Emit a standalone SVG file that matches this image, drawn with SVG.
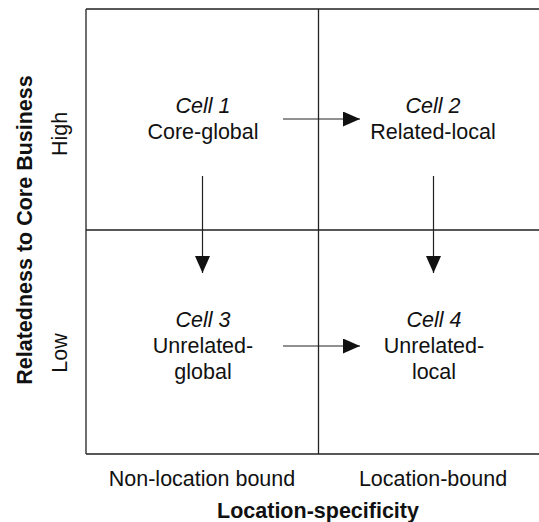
<svg xmlns="http://www.w3.org/2000/svg" width="539" height="522" viewBox="0 0 539 522">
<defs>
<style>
.t{font-family:"Liberation Sans",Arial,sans-serif;font-size:21.5px;fill:#111;text-anchor:middle}
.i{font-style:italic}
.b{font-weight:bold}
.grid{stroke:#222;stroke-width:1.3;fill:none}
.arr{stroke:#222;stroke-width:1.2;fill:none}
</style>
<marker id="ah" viewBox="0 0 17 15" refX="17" refY="7.5" markerWidth="17" markerHeight="15" markerUnits="userSpaceOnUse" orient="auto">
<path d="M0,0 L17,7.5 L0,15 Z" fill="#111"/>
</marker>
</defs>
<rect width="539" height="522" fill="#fff"/>
<g id="grid">
<path class="grid" d="M86,9 H540 M86,454 H540 M86,9 V454 M318.5,9 V454 M86,230 H540"/>
</g>
<g id="cell1">
<text class="t i" x="203" y="113">Cell 1</text>
<text class="t" x="203" y="139">Core-global</text>
</g>
<g id="cell2">
<text class="t i" x="433" y="113">Cell 2</text>
<text class="t" x="433" y="139">Related-local</text>
</g>
<g id="cell3">
<text class="t i" x="203" y="327">Cell 3</text>
<text class="t" x="203" y="353">Unrelated-</text>
<text class="t" x="203" y="379">global</text>
</g>
<g id="cell4">
<text class="t i" x="434" y="327">Cell 4</text>
<text class="t" x="434" y="353">Unrelated-</text>
<text class="t" x="434" y="379">local</text>
</g>
<g id="connectors">
<line class="arr" x1="283" y1="119" x2="360" y2="119" marker-end="url(#ah)"/>
<line class="arr" x1="283" y1="346" x2="360" y2="346" marker-end="url(#ah)"/>
<line class="arr" x1="202.5" y1="176" x2="202.5" y2="273" marker-end="url(#ah)"/>
<line class="arr" x1="433.5" y1="176" x2="433.5" y2="273" marker-end="url(#ah)"/>
</g>
<g id="axes">
<text class="t" x="202" y="486">Non-location bound</text>
<text class="t" x="433" y="486">Location-bound</text>
<text class="t b" x="318" y="518">Location-specificity</text>
<text class="t b" transform="translate(32,230) rotate(-90)">Relatedness to Core Business</text>
<text class="t" transform="translate(67,134) rotate(-90)">High</text>
<text class="t" transform="translate(67,353) rotate(-90)">Low</text>
</g>
</svg>
